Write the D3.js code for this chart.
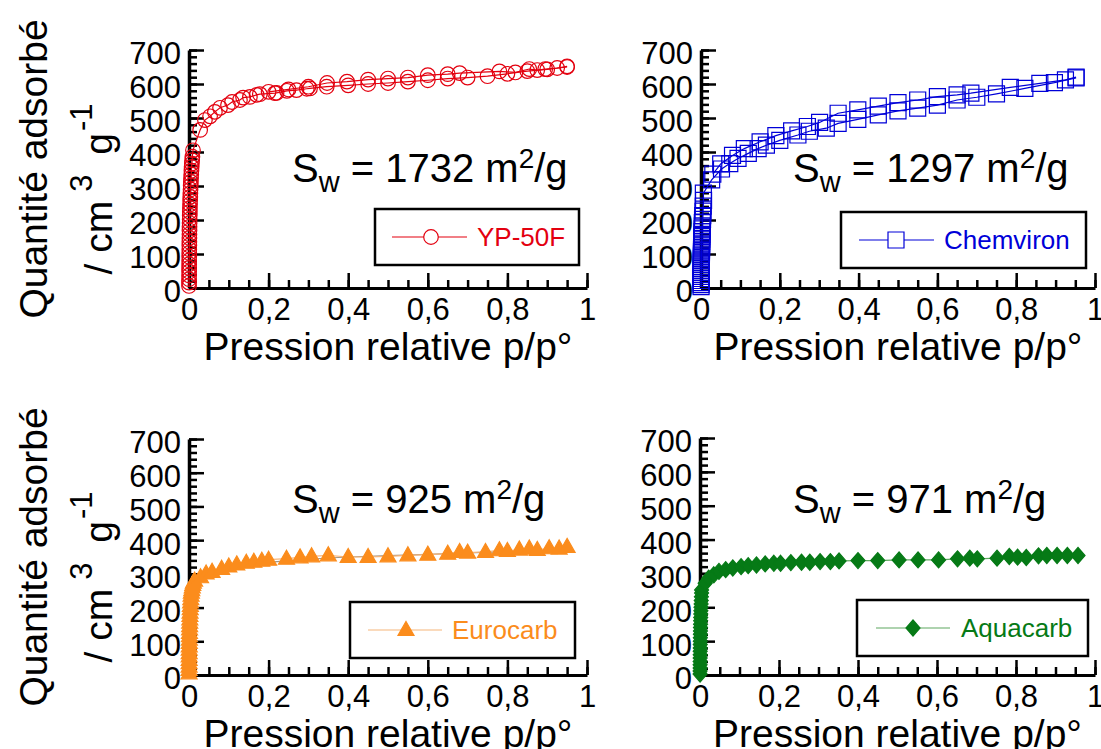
<!DOCTYPE html>
<html><head><meta charset="utf-8">
<script src="https://cdn.jsdelivr.net/npm/d3@7"></script>
<style>body{margin:0;background:#fff}svg{display:block}text{font-family:"Liberation Sans",Arial,sans-serif}</style>
</head><body><svg id="c" width="1101" height="749"></svg>
<script>
// ---------- data ----------
const yTickValues=[0,100,200,300,400,500,600,700];
const xTickValues=[0,0.2,0.4,0.6,0.8,1];
const xTickLabels=["0","0,2","0,4","0,6","0,8","1"];
const seriesNames=["YP-50F","Chemviron","Eurocarb","Aquacarb"];
const surfaceAreas=["1732","1297","925","971"];

// YP-50F
const ypLowP=[0.0001,0.0001,0.0002,0.0002,0.0003,0.0003,0.0004,0.0004,0.0005,0.0006,0.0007,0.0008,0.0009,0.001,0.0011,0.0012,0.0013,0.0015,0.0017,0.0019,0.0021,0.0023,0.0026,0.0029,0.0032,0.0035,0.0039,0.0043,0.0047,0.0051,0.0056,0.0061,0.0066,0.0072,0.0078,0.0085];
const ypLowQ=[6,16,26,37,48,59,70,81,92,103,114,125,136,147,158,169,180,191,202,213,224,235,246,257,268,279,290,301,312,323,334,345,356,366,376,386];
const ypAdsP=[0.01,0.028,0.04,0.053,0.065,0.078,0.098,0.108,0.128,0.136,0.153,0.17,0.178,0.216,0.22,0.246,0.27,0.296,0.304,0.346,0.4,0.45,0.5,0.55,0.6,0.65,0.7,0.75,0.8,0.85,0.9,0.95];
const ypAdsQ=[405,465,494,505,518,530,538,547,553,560,562,568,570,573,574,580,582,586,587,592,596,600,603,607,611,616,619,623,630,638,643,650];
const ypDesP=[0.95,0.925,0.895,0.875,0.855,0.82,0.78,0.68,0.65,0.6,0.55,0.5,0.45,0.397,0.347,0.3,0.25,0.2];
const ypDesQ=[652,647,644,641,644,634,637,632,629,626,619,616,613,607,603,592,584,577];

// Chemviron
const chLowP=[0.0002,0.0002,0.0003,0.0003,0.0004,0.0004,0.0005,0.0005,0.0006,0.0006,0.0007,0.0007,0.0008,0.0008,0.0009,0.001,0.0011,0.0012,0.0013,0.0014,0.0015,0.0016,0.0018,0.002,0.0022,0.0024,0.0026,0.0029,0.0032,0.0035,0.0039,0.0044,0.005,0.0057,0.0065];
const chLowQ=[4,10,16,22,28,34,40,46,52,58,64,70,76,82,88,94,100,106,112,118,124,130,137,144,151,158,166,174,183,192,202,213,226,241,258];
const chAdsP=[0.006,0.027,0.052,0.073,0.094,0.12,0.145,0.166,0.2,0.246,0.275,0.318,0.348,0.398,0.45,0.5,0.55,0.6,0.65,0.7,0.75,0.822,0.897,0.952];
const chAdsQ=[279,318,350,366,381,396,410,420,434,450,461,470,484,496,509,521,529,538,553,561,571,587,604,618];
const chDesP=[0.952,0.925,0.86,0.785,0.685,0.65,0.6,0.55,0.5,0.45,0.398,0.348,0.301,0.27,0.23,0.19,0.15,0.11,0.08,0.05,0.03];
const chDesQ=[620,612,602,590,573,568,563,553,545,535,524,514,487,475,462,448,430,410,390,365,335];

// Eurocarb
const euLowP=[0.0002,0.0002,0.0003,0.0003,0.0004,0.0004,0.0005,0.0006,0.0007,0.0008,0.0009,0.001,0.0012,0.0014,0.0016,0.0018,0.002,0.0023,0.0026,0.003,0.0034,0.0039,0.0045,0.0052,0.006,0.007,0.0082,0.0095,0.011];
const euLowQ=[5,15,25,35,45,55,65,75,85,95,105,115,125,135,145,155,165,175,185,195,205,215,225,235,244,252,260,267,274];
const euAdsP=[0.014,0.029,0.043,0.058,0.082,0.1,0.12,0.144,0.163,0.183,0.2,0.245,0.279,0.308,0.35,0.4,0.45,0.5,0.55,0.6,0.65,0.68,0.7,0.745,0.78,0.8,0.83,0.855,0.875,0.905,0.93,0.95];
const euAdsQ=[280,290,301,306,315,322,328,333,336,339,342,345,349,352,355,350,350,352,355,357,360,365,363,365,370,368,372,375,371,376,375,380];
const euDesP=[0.95,0.9,0.8,0.7,0.6,0.5,0.4,0.35,0.3,0.25,0.2,0.15,0.1,0.07,0.05,0.03,0.02];
const euDesQ=[373,370,366,362,358,354,350,347,343,339,334,328,319,311,303,292,282];

// Aquacarb
const aqLowP=[0.0002,0.0002,0.0003,0.0003,0.0004,0.0004,0.0005,0.0005,0.0006,0.0007,0.0008,0.0009,0.001,0.0011,0.0012,0.0014,0.0016,0.0018,0.002,0.0022,0.0025,0.0028,0.0031,0.0035,0.004];
const aqLowQ=[3,12,21,30,40,50,60,70,80,90,100,110,120,130,140,150,160,170,180,190,200,210,220,231,242];
const aqAdsP=[0.004,0.013,0.022,0.035,0.048,0.065,0.083,0.104,0.122,0.143,0.165,0.187,0.204,0.23,0.257,0.278,0.304,0.33,0.352,0.4,0.45,0.504,0.552,0.604,0.652,0.683,0.702,0.752,0.783,0.804,0.826,0.857,0.878,0.904,0.93,0.957];
const aqAdsQ=[251,271,286,296,306,311,316,320,323,325,328,330,330,332,333,333,335,335,337,338,338,340,340,340,343,345,343,345,350,348,347,352,353,353,353,353];

// ---------- layout / style ----------
const zip=(p,q)=>p.map((v,i)=>[v,q[i]]);
const panels=[
 {x0:189,x1:587,yTop:50,yBot:288,color:"#e3000f",line:"#e3000f",desLine:"#e3000f",marker:"circle",fill:"none",
  ads:zip(ypLowP,ypLowQ).concat(zip(ypAdsP,ypAdsQ)),des:zip(ypDesP,ypDesQ),desMarkers:true,
  sw:{x:292,y:182},leg:{x:375,y:209,w:204,h:56,l1:392,l2:467,m:431,t:477},ytitle:true},
 {x0:701,x1:1095,yTop:50,yBot:288,color:"#0000d8",line:"#0000d8",desLine:"#0000d8",marker:"square",fill:"none",
  ads:zip(chLowP,chLowQ).concat(zip(chAdsP,chAdsQ)),des:zip(chDesP,chDesQ),desMarkers:true,
  sw:{x:793,y:182},leg:{x:841,y:212,w:245,h:56,l1:859,l2:934,m:896,t:944},ytitle:false},
 {x0:189,x1:587,yTop:439,yBot:675,color:"#fb8c1c",line:"#f6b57a",desLine:"#a39583",marker:"triangle",fill:"#fb8c1c",
  ads:zip(euLowP,euLowQ).concat(zip(euAdsP,euAdsQ)),des:zip(euDesP,euDesQ),desMarkers:false,
  sw:{x:292,y:513},leg:{x:350,y:602,w:225,h:56,l1:368,l2:442,m:406,t:452},ytitle:true},
 {x0:700,x1:1095,yTop:438,yBot:675,color:"#067a16",line:"#5fa860",desLine:"#5fa860",marker:"diamond",fill:"#067a16",
  ads:zip(aqLowP,aqLowQ).concat(zip(aqAdsP,aqAdsQ)),des:[],desMarkers:false,
  sw:{x:793,y:513},leg:{x:857,y:600,w:231,h:56,l1:876,l2:950,m:913,t:961},ytitle:false}
];
const shapes={
 circle:"M7.3,0A7.3,7.3 0 1,1 -7.3,0A7.3,7.3 0 1,1 7.3,0Z",
 square:"M-8,-8H8V8H-8Z",
 triangle:"M0,-8.5L8,5.5L-8,5.5Z",
 diamond:"M0,-8L7,0L0,8L-7,0Z"
};
const svg=d3.select("#c");
const F=31; // tick font

panels.forEach((p,i)=>{
 const x=d3.scaleLinear().domain([0,1]).range([p.x0,p.x1]);
 const y=d3.scaleLinear().domain([0,700]).range([p.yBot,p.yTop]);
 const g=svg.append("g");
 // minor ticks
 g.append("g").attr("transform",`translate(${p.x0},0)`)
  .call(d3.axisLeft(y).tickValues(d3.range(0,701,20)).tickSize(-8).tickFormat(""))
  .call(s=>{s.select(".domain").remove();s.selectAll("line").attr("stroke","#000").attr("stroke-width",2.5);});
 g.append("g").attr("transform",`translate(0,${p.yBot})`)
  .call(d3.axisBottom(x).tickValues(d3.range(0,1.001,0.05)).tickSize(-8).tickFormat(""))
  .call(s=>{s.select(".domain").remove();s.selectAll("line").attr("stroke","#000").attr("stroke-width",2.5);});
 // major y
 const ya=g.append("g").attr("transform",`translate(${p.x0},0)`)
  .call(d3.axisLeft(y).tickValues(yTickValues).tickSizeInner(-15).tickSizeOuter(0).tickPadding(8));
 ya.select(".domain").attr("stroke","#000").attr("stroke-width",3.5);
 ya.selectAll("line").attr("stroke","#000").attr("stroke-width",2.5);
 ya.selectAll("text").attr("font-size",F).attr("font-family","Liberation Sans, Arial, sans-serif").attr("fill","#000").attr("dy","0.45em");
 // major x
 const xa=g.append("g").attr("transform",`translate(0,${p.yBot})`)
  .call(d3.axisBottom(x).tickValues(xTickValues).tickFormat((d,k)=>xTickLabels[k]).tickSizeInner(-15).tickSizeOuter(0).tickPadding(10));
 xa.select(".domain").attr("stroke","#000").attr("stroke-width",3);
 xa.selectAll("line").attr("stroke","#000").attr("stroke-width",2.5);
 xa.selectAll("text").attr("font-size",F).attr("font-family","Liberation Sans, Arial, sans-serif").attr("fill","#000");
 // x title
 g.append("text").attr("x",(p.x0+p.x1)/2).attr("y",p.yBot+72).attr("text-anchor","middle")
  .attr("font-size",39).text("Pression relative p/p°");
 // y title
 if(p.ytitle){
  const cy=(p.yTop+p.yBot)/2;
  g.append("text").attr("transform",`translate(47,${cy}) rotate(-90)`).attr("text-anchor","middle")
   .attr("font-size",39).text("Quantité adsorbé");
  const t2=g.append("text").attr("transform",`translate(112,${cy+20}) rotate(-90)`).attr("text-anchor","middle").attr("font-size",39);
  t2.append("tspan").text("/ cm");
  t2.append("tspan").attr("font-size",31).attr("dx",9).attr("dy",-20).text("3");
  t2.append("tspan").attr("dx",9).attr("dy",20).text(" g");
  t2.append("tspan").attr("font-size",31).attr("dx",2).attr("dy",-20).text("-1");
 }
 // lines
 const lg=d3.line().x(d=>x(d[0])).y(d=>y(d[1]));
 if(p.des.length) g.append("path").datum(p.des).attr("d",lg).attr("fill","none").attr("stroke",p.desLine).attr("stroke-width",1.2);
 g.append("path").datum(p.ads).attr("d",lg).attr("fill","none").attr("stroke",p.line).attr("stroke-width",1.2);
 // markers
 const pts=p.desMarkers?p.ads.concat(p.des):p.ads;
 g.append("g").selectAll("path").data(pts).join("path")
  .attr("transform",d=>`translate(${x(d[0])},${y(d[1])})`).attr("d",shapes[p.marker])
  .attr("fill",p.fill).attr("stroke",p.color).attr("stroke-width",1.2);
 // S_w annotation
 const a=g.append("text").attr("x",p.sw.x).attr("y",p.sw.y).attr("font-size",40).attr("fill","#000");
 a.append("tspan").text("S");
 a.append("tspan").attr("font-size",29).attr("dy",10).text("w");
 a.append("tspan").attr("dy",-10).text(" = "+surfaceAreas[i]+" m");
 a.append("tspan").attr("font-size",28).attr("dy",-14).text("2");
 a.append("tspan").attr("dy",14).text("/g");
 // legend
 const L=p.leg;
 g.append("rect").attr("x",L.x).attr("y",L.y).attr("width",L.w).attr("height",L.h).attr("fill","#fff").attr("stroke","#000").attr("stroke-width",2.5);
 const ly=L.y+L.h/2;
 g.append("line").attr("x1",L.l1).attr("x2",L.l2).attr("y1",ly).attr("y2",ly).attr("stroke",p.line).attr("stroke-width",1.2);
 g.append("path").attr("transform",`translate(${L.m},${ly})`).attr("d",shapes[p.marker]).attr("fill",p.fill==="none"?"#fff":p.fill).attr("stroke",p.color).attr("stroke-width",1.2);
 g.append("text").attr("x",L.t).attr("y",ly).attr("dy","0.36em").attr("font-size",26).attr("fill",p.color).text(seriesNames[i]);
});
</script></body></html>
